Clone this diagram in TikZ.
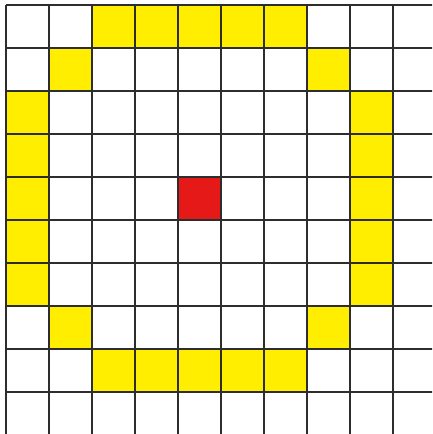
\documentclass[tikz,border=0pt]{standalone}
\begin{document}
\begin{tikzpicture}[x=1pt,y=-1pt,
  yel/.style={fill={rgb,255:red,255;green,238;blue,0}},
  redc/.style={fill={rgb,255:red,230;green,25;blue,25}},
  gridline/.style={draw={rgb,255:red,45;green,45;blue,45},line width=1.6pt}]
\useasboundingbox (0,0) rectangle (432,434);
\fill[white] (0,0) rectangle (432,434);
\def\cx#1{6+43*#1}
% yellow cells
\foreach \c/\r in {2/0,3/0,4/0,5/0,6/0,1/1,7/1,0/2,8/2,0/3,8/3,0/4,8/4,0/5,8/5,0/6,8/6,1/7,7/7,2/8,3/8,4/8,5/8,6/8}
  \fill[yel] ({6+43*\c},{5+43*\r}) rectangle ++(43,43);
% red cell
\fill[redc] ({6+43*4},{5+43*4}) rectangle ++(43,43);
% grid
\begin{scope}
\clip (0,0) rectangle (432,434);
\foreach \i in {0,...,10}
  \draw[gridline] ({6+43*\i},5) -- ({6+43*\i},440);
\foreach \j in {0,...,10}
  \draw[gridline] (6,{5+43*\j}) -- (440,{5+43*\j});
\end{scope}
\end{tikzpicture}
\end{document}
